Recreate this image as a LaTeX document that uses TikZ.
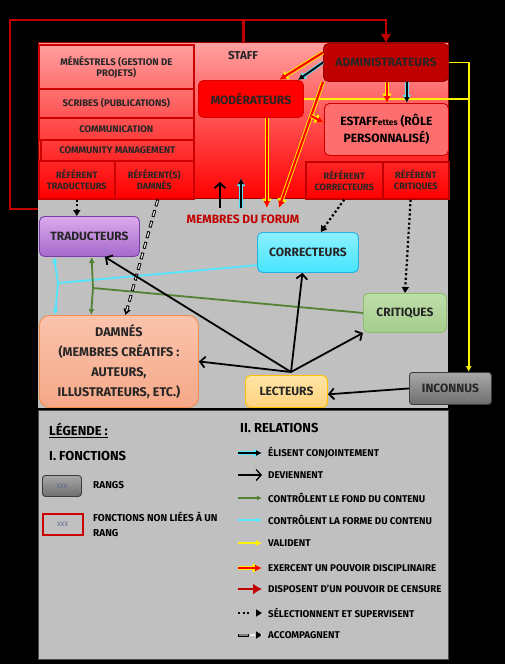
\documentclass[tikz,border=0pt]{standalone}
\usepackage{fontspec}
\setmainfont{Fira Sans}
\usetikzlibrary{arrows.meta, positioning}

\definecolor{darkred}{RGB}{192,0,0}
\definecolor{staffTop}{RGB}{255,160,160}
\definecolor{staffBot}{RGB}{255,0,0}
\definecolor{boxred}{RGB}{204,0,0}
\definecolor{estafFill}{RGB}{255,110,110}
\definecolor{panel}{RGB}{192,192,192}
\definecolor{cyanline}{RGB}{80,230,255}
\definecolor{greenline}{RGB}{84,130,53}
\definecolor{tradTop}{RGB}{220,170,235}
\definecolor{tradBot}{RGB}{165,105,205}
\definecolor{tradEdge}{RGB}{120,60,170}
\definecolor{corrTop}{RGB}{140,240,255}
\definecolor{corrBot}{RGB}{70,228,255}
\definecolor{corrEdge}{RGB}{40,175,225}
\definecolor{critTop}{RGB}{190,222,170}
\definecolor{critBot}{RGB}{165,205,140}
\definecolor{critEdge}{RGB}{140,190,110}
\definecolor{damnTop}{RGB}{250,195,172}
\definecolor{damnBot}{RGB}{246,168,136}
\definecolor{damnEdge}{RGB}{245,140,80}
\definecolor{lectTop}{RGB}{255,228,165}
\definecolor{lectBot}{RGB}{255,210,125}
\definecolor{lectEdge}{RGB}{255,192,0}
\definecolor{inconTop}{RGB}{168,168,168}
\definecolor{inconBot}{RGB}{110,110,110}
\definecolor{inconEdge}{RGB}{60,60,60}
\definecolor{xxxcol}{RGB}{90,105,145}
\definecolor{textdark}{RGB}{38,38,38}

\begin{document}
\begin{tikzpicture}[x=1pt, y=-1pt,
  lbl/.style={font=\bfseries\fontsize{9.6}{11}\selectfont, text=textdark, align=center, inner sep=1pt},
  big/.style={font=\bfseries\fontsize{12}{14}\selectfont, text=textdark, align=center, inner sep=1pt},
  cell/.style={lbl, draw=boxred, line width=1.6pt, anchor=north west},
  role/.style={big, rounded corners=5pt, line width=0.9pt, anchor=north west},
  legtxt/.style={font=\bfseries\fontsize{9.8}{11}\selectfont, text=black, anchor=west, inner sep=0pt, align=left},
  leghead/.style={font=\bfseries\fontsize{13}{15}\selectfont, text=black, anchor=west, inner sep=0pt},
  discip/.style={draw=red, line width=2.2pt, -{Latex[length=7pt,width=7pt]},
    preaction={draw=yellow, line width=4pt, -{Latex[length=9.5pt,width=10.5pt]}}},
  elire/.style={draw=black, line width=1.8pt, -{Latex[length=6pt,width=6pt]},
    preaction={draw=cyanline, line width=3.4pt, -{Latex[length=8pt,width=9pt]}}},
  devient/.style={draw=black, line width=1.8pt, -{Straight Barb[length=5pt,width=11pt]}},
  fond/.style={draw=greenline, line width=1.8pt},
  forme/.style={draw=cyanline, line width=1.8pt},
  valide/.style={draw=yellow, line width=1.6pt, -{Latex[length=6pt,width=6pt]}},
  censure/.style={draw=darkred, line width=2.6pt, -{Latex[length=9pt,width=11pt]}},
  supervise/.style={draw=black, line width=2.2pt, dash pattern=on 2.2pt off 2.4pt, -{Triangle[length=6pt,width=7pt]}},
  accomp/.style={draw=black, line width=3pt, dash pattern=on 7pt off 4pt, -{Triangle[length=6pt,width=7pt]},
    postaction={draw=white!85!gray, line width=1.2pt, dash pattern=on 5pt off 6pt, dash phase=10pt, -}},
  tipfond/.style={fond, line width=1.6pt, -{Latex[length=5pt,width=5pt]}},
  tipforme/.style={forme, line width=1.6pt, -{Latex[length=5pt,width=5pt]}},
  tipdevient/.style={devient, line width=1.3pt},
  tipsupervise/.style={supervise, dash pattern=on 2.2pt off 2.4pt on 2.2pt off 2.4pt on 2.2pt off 20pt},
  tipaccomp/.style={accomp, dash pattern=on 11pt off 20pt,
    postaction={draw=gray, line width=1.4pt, dash pattern=on 9pt off 22pt, dash phase=30pt, -}}
]
\fill[black] (0,0) rectangle (505,664);
\useasboundingbox (0,0) rectangle (505,664);

% zones
\node[fill=panel, minimum width=410, minimum height=210, anchor=north west, inner sep=0] (forum) at (38,198) {};
\node[fill=panel, draw=black!70, line width=0.8pt, minimum width=410, minimum height=249, anchor=north west, inner sep=0] (legend) at (38,410) {};
\node[top color=staffTop, bottom color=staffBot, draw=red!60!black, line width=0.6pt, minimum width=410, minimum height=156, anchor=north west, inner sep=0] (staffzone) at (38,42) {};
\node[big, font=\bfseries\fontsize{11.5}{13}\selectfont] (stafflbl) at (243,56) {STAFF};

% functions of the staff
\node[cell, minimum width=155, minimum height=44] (menestrels) at (38,44) {MÉNÉSTRELS (GESTION DE\\PROJETS)};
\node[cell, minimum width=155, minimum height=29] (scribes) at (38,88) {SCRIBES (PUBLICATIONS)};
\node[cell, minimum width=155, minimum height=22] (comm) at (38,117) {COMMUNICATION};
\node[cell, minimum width=153, minimum height=21] (cm) at (40,139) {COMMUNITY MANAGEMENT};
\node[cell, font=\bfseries\fontsize{9.2}{11}\selectfont, minimum width=76, minimum height=38] (reftrad) at (38,160) {RÉFÉRENT\\TRADUCTEURS};
\node[cell, font=\bfseries\fontsize{9.2}{11}\selectfont, minimum width=79, minimum height=38] (refdam) at (114,160) {RÉFÉRENT(S)\\DAMNÉS};
\node[cell, font=\bfseries\fontsize{9.2}{11}\selectfont, draw=darkred, minimum width=77, minimum height=37] (refcor) at (305,161) {RÉFÉRENT\\CORRECTEURS};
\node[cell, font=\bfseries\fontsize{9.2}{11}\selectfont, draw=darkred, minimum width=66, minimum height=37] (refcrit) at (382,161) {RÉFÉRENT\\CRITIQUES};

% ranks
\node[role, fill=darkred, draw=darkred!80!black, minimum width=125, minimum height=38] (admin) at (323,43) {ADMINISTRATEURS};
\node[role, fill=red, draw=red!85!black, minimum width=105, minimum height=37] (moder) at (198,80) {MODÉRATEURS};
\node[role, fill=estafFill, draw=red!80!black, minimum width=124, minimum height=52, font=\bfseries\fontsize{12}{17}\selectfont, text=black] (estaf) at (324,103) {ESTAFF{\fontsize{8.5}{8}\selectfont ettes} (RÔLE\\PERSONNALISÉ)};
\node[big, text=darkred] (membres) at (243,219) {MEMBRES DU FORUM};
\node[role, top color=tradTop, bottom color=tradBot, draw=tradEdge, minimum width=100, minimum height=40] (trad) at (39,216) {TRADUCTEURS};
\node[role, top color=corrTop, bottom color=corrBot, draw=corrEdge, minimum width=101, minimum height=40] (corr) at (257,232) {CORRECTEURS};
\node[role, top color=critTop, bottom color=critBot, draw=critEdge, minimum width=83, minimum height=39] (crit) at (363,293) {CRITIQUES};
\node[role, rounded corners=10pt, top color=damnTop, bottom color=damnBot, draw=damnEdge, minimum width=159, minimum height=92, font=\bfseries\fontsize{12.6}{20}\selectfont] (damn) at (39,315) {DAMNÉS\\(MEMBRES CRÉATIFS :\\AUTEURS,\\ILLUSTRATEURS, ETC.)};
\node[role, top color=lectTop, bottom color=lectBot, draw=lectEdge, minimum width=82, minimum height=32] (lect) at (245,375) {LECTEURS};
\node[role, rounded corners=3pt, top color=inconTop, bottom color=inconBot, draw=inconEdge, minimum width=82, minimum height=32] (incon) at (409,372) {INCONNUS};

% censorship loop and validation
\coordinate (censL) at (38,209);
\coordinate (censC) at (10,20);
\draw[censure] (censL) -| (censC) -| (admin.north);
\draw[censure, -] (staffzone.north |- censC) -- (staffzone.north);
\draw[valide] (admin.east) -| (incon.42);
\draw[valide, -] (moder.east) -- (moder.east -| incon.42);

% discipline and election
\coordinate (mfA) at (279,208);
\coordinate (mfD) at (220,208);
\coordinate (mfE) at (241,208);
\coordinate (stD) at (220,182);
\coordinate (stE) at (241,178);
\draw[discip] (admin.171) -- (moder.34);
\draw[elire] (admin.west) -- (moder.22);
\draw[discip] (admin.-87) -- (estaf.north -| admin.-87);
\draw[elire] (admin.-43) -- (estaf.north -| admin.-43);
\draw[discip] (admin.south west) -- coordinate[pos=0.27] (brA) (mfA);
\draw[discip] (brA) -- (estaf.174);
\draw[discip] (moder.-50) -- (moder.-50 |- mfA);
\draw[devient] (mfD) -- (stD);
\draw[elire] (mfE) -- (stE);

% content control
\coordinate (cy) at (58,283);
\coordinate (gr) at (93,288);
\draw[forme] (corr.194) -- (cy);
\draw[forme, {Latex[length=6pt,width=6pt]}-{Latex[length=6pt,width=6pt]}] (trad.210) -- (cy) -- (damn.144);
\draw[fond] (crit.west) -- (gr);
\draw[fond, {Latex[length=6pt,width=6pt]}-{Latex[length=6pt,width=6pt]}] (trad.-84) -- (gr) -- (damn.121);

% supervision
\draw[supervise] (reftrad.south) -- (reftrad.south |- trad.north);
\draw[supervise] (refcor.south) -- (corr.58);
\draw[supervise] (refcrit.-105) -- (crit.north);
\draw[accomp] (refdam.-80) -- (damn.82);

% readers become...
\coordinate (lsrc) at (291,372);
\foreach \t in {trad.-53, corr.-105, crit.south west, damn.east}
  \draw[devient] (lsrc) -- (\t);
\draw[devient] (incon.west) -- (lect.-4);

% legend
\node[leghead] (leg) at (49,430) {\underline{LÉGENDE :}};
\node[leghead] (fonct) at (49,456) {I. FONCTIONS};
\node[role, rounded corners=3pt, top color=inconTop, bottom color=inconBot, draw=inconEdge, minimum width=39, minimum height=21, font=\fontsize{6.5}{7}\selectfont, text=xxxcol] (legrang) at (42,475) {XXX};
\node[legtxt, font=\bfseries\fontsize{10}{11}\selectfont] (legrangtxt) at (93,485) {RANGS};
\node[anchor=north west, draw=red!80!black, line width=1.5pt, minimum width=40, minimum height=21, inner sep=0, font=\fontsize{6.5}{7}\selectfont, text=xxxcol] (legfct) at (42,513) {XXX};
\node[legtxt, font=\bfseries\fontsize{10}{15}\selectfont] (legfcttxt) at (93,524) {FONCTIONS NON LIÉES À UN\\RANG};
\node[leghead] (rel) at (240,428) {II. RELATIONS};
\foreach \y/\sty/\txt [count=\i] in {
  453/elire/ÉLISENT CONJOINTEMENT,
  475/tipdevient/DEVIENNENT,
  498/tipfond/CONTRÔLENT LE FOND DU CONTENU,
  520/tipforme/CONTRÔLENT LA FORME DU CONTENU,
  543/valide/VALIDENT,
  568/discip/EXERCENT UN POUVOIR DISCIPLINAIRE,
  589/censure/DISPOSENT D’UN POUVOIR DE CENSURE,
  613/tipsupervise/SÉLECTIONNENT ET SUPERVISENT,
  635/tipaccomp/ACCOMPAGNENT} {
  \draw[\sty] (238,\y) -- (262,\y);
  \node[legtxt] (rel\i) at (268,\y) {\txt};
}
\end{tikzpicture}
\end{document}
